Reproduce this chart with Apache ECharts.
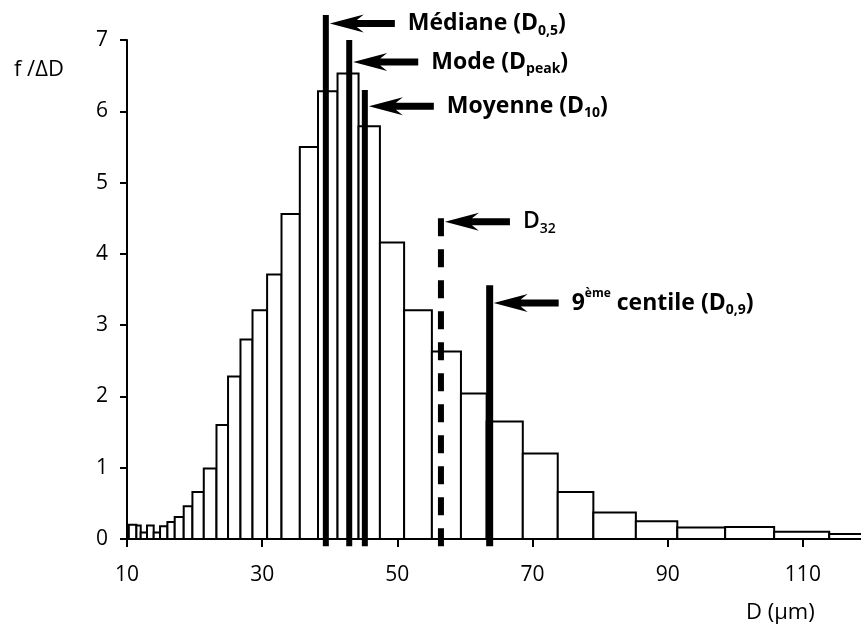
<!DOCTYPE html>
<html><head><meta charset="utf-8">
<script src="https://cdn.jsdelivr.net/npm/echarts@6/dist/echarts.min.js"></script>
<style>html,body{margin:0;padding:0;background:#fff}#c{width:861px;height:630px}</style>
</head><body><div id="c"></div>
<script>
// ---- data ----
const binEdges = [10.27, 11.39, 12.03, 12.96, 13.95, 14.89, 15.98, 17.06, 18.39, 19.68, 21.36, 23.24, 24.95, 26.79, 28.57, 30.73, 32.86, 35.57, 38.26, 41.15, 44.26, 47.42, 51.0, 55.11, 59.41, 63.21, 68.56, 73.73, 79.0, 85.29, 91.42, 98.5, 105.75, 113.9, 122.5];
const binHeights = [0.20, 0.19, 0.09, 0.19, 0.09, 0.18, 0.24, 0.31, 0.46, 0.66, 0.99, 1.60, 2.28, 2.80, 3.21, 3.71, 4.56, 5.50, 6.28, 6.53, 5.79, 4.16, 3.21, 2.63, 2.04, 1.65, 1.20, 0.66, 0.37, 0.25, 0.16, 0.17, 0.10, 0.07];
const xTicks = [10, 30, 50, 70, 90, 110];
const yTicks = [0, 1, 2, 3, 4, 5, 6, 7];
const markerX = [39.42, 42.88, 45.19, 56.45, 63.66];
const markerTop = [7.35, 7.0, 6.3, 4.68, 3.56];
const arrowY = [7.23, 6.69, 6.07, 4.45, 3.31];
const markerDashed = [false, false, false, true, false];
const markerLabels = [
  [['Médiane (D', 'n'], ['0,5', 'sub'], [')', 'n']],
  [['Mode (D', 'n'], ['peak', 'sub'], [')', 'n']],
  [['Moyenne (D', 'n'], ['10', 'sub'], [')', 'n']],
  [['D', 'n'], ['32', 'sub']],
  [['9', 'n'], ['ème', 'sup'], [' centile (D', 'n'], ['0,9', 'sub'], [')', 'n']]
];
const markerWeight = ['bold', 'bold', 'bold', '600', 'bold'];
const yTitle = 'f /ΔD';
const xTitle = 'D (μm)';

// ---- styles ----
const FONT = '"Open Sans", "DejaVu Sans", sans-serif';
const segStyle = {
  n: { size: 23, dy: 0 },
  sub: { size: 14, dy: 7 },
  sup: { size: 12, dy: -9 }
};
const mctx = document.createElement('canvas').getContext('2d');
function measure(t, size, weight) {
  mctx.font = weight + ' ' + size + 'px ' + FONT;
  return mctx.measureText(t).width;
}

const barData = binHeights.map((h, i) => [binEdges[i], binEdges[i + 1], h]);
const markerData = markerX.map((x, i) => [x, markerTop[i], arrowY[i], i]);

const chart = echarts.init(document.getElementById('c'), null, { renderer: 'canvas' });
chart.setOption({
  animation: false,
  backgroundColor: '#fff',
  grid: { left: 127, right: 0, top: 40, bottom: 91 },
  xAxis: {
    type: 'value', min: 10, max: 118.6,
    axisLine: { show: true, lineStyle: { color: '#000', width: 2 } },
    axisTick: { show: true, customValues: xTicks, length: 8, lineStyle: { color: '#000', width: 2 } },
    axisLabel: { customValues: xTicks, margin: 26, color: '#000', fontSize: 21, fontFamily: FONT },
    splitLine: { show: false }
  },
  yAxis: {
    type: 'value', min: 0, max: 7, interval: 1,
    axisLine: { show: true, lineStyle: { color: '#000', width: 2 } },
    axisTick: { show: true, length: 7, lineStyle: { color: '#000', width: 2 } },
    axisLabel: { margin: 19, color: '#000', fontSize: 21, fontFamily: FONT },
    splitLine: { show: false }
  },
  graphic: [
    { type: 'text', left: 14, top: 59, style: { text: yTitle, font: '22px ' + FONT, fill: '#000' } },
    { type: 'text', left: 746, top: 602, style: { text: xTitle, font: '22px ' + FONT, fill: '#000' } }
  ],
  series: [
    {
      type: 'custom', clip: true, z: 2,
      data: barData,
      renderItem: function (params, api) {
        const p0 = api.coord([api.value(0), 0]);
        const p1 = api.coord([api.value(1), api.value(2)]);
        return {
          type: 'rect',
          shape: { x: p0[0], y: p1[1], width: p1[0] - p0[0], height: p0[1] - p1[1] },
          style: { fill: '#fff', stroke: '#000', lineWidth: 2 }
        };
      }
    },
    {
      type: 'custom', clip: false, z: 5,
      data: markerData,
      renderItem: function (params, api) {
        const i = api.value(3);
        const bottom = api.coord([api.value(0), -0.1]);
        const top = api.coord([api.value(0), api.value(1)]);
        const ay = api.coord([api.value(0), api.value(2)])[1];
        const children = [];
        children.push({
          type: 'line',
          shape: { x1: bottom[0], y1: bottom[1], x2: top[0], y2: top[1] },
          style: { stroke: '#000', lineWidth: i === 4 ? 7 : 6, lineDash: markerDashed[i] ? [18, 13] : null, lineCap: 'butt' }
        });
        const tip = top[0] + 4;
        const L = 65;
        children.push({
          type: 'polygon',
          shape: { points: [[tip, ay], [tip + 34, ay - 9], [tip + 27, ay - 3.5], [tip + L, ay - 3.5], [tip + L, ay + 3.5], [tip + 27, ay + 3.5], [tip + 34, ay + 9]] },
          style: { fill: '#000' }
        });
        let x = tip + L + 13;
        const w = markerWeight[i];
        markerLabels[i].forEach(function (seg) {
          const st = segStyle[seg[1]];
          children.push({
            type: 'text',
            x: x, y: ay + st.dy,
            style: { text: seg[0], font: w + ' ' + st.size + 'px ' + FONT, fill: '#000', verticalAlign: 'middle', align: 'left' }
          });
          x += measure(seg[0], st.size, w);
        });
        return { type: 'group', children: children };
      }
    }
  ]
});
</script>
</body></html>
